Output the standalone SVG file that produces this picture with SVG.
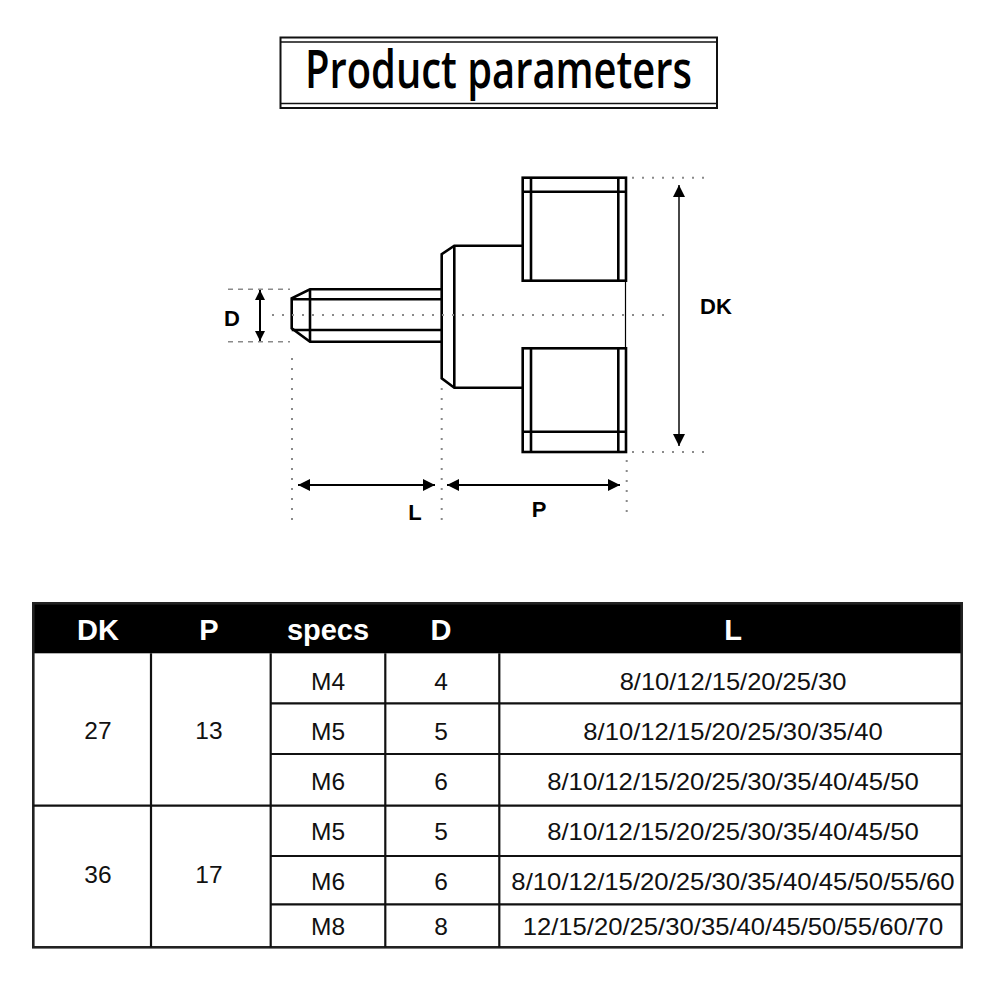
<svg xmlns="http://www.w3.org/2000/svg" width="1000" height="1000" viewBox="0 0 1000 1000">
<defs>
<style>
.ln{fill:none;stroke:#000;stroke-width:2.6;stroke-linejoin:miter}
.thin{fill:none;stroke:#000;stroke-width:1.2}
.dot{fill:none;stroke:#8a8a8a;stroke-width:2;stroke-dasharray:2 8}
.dash{fill:none;stroke:#8a8a8a;stroke-width:1.6;stroke-dasharray:5 5}
.dim{fill:none;stroke:#000;stroke-width:2}
.dimg{fill:none;stroke:#333;stroke-width:1.8}
.lbl{font-family:"Liberation Sans",Arial,sans-serif;font-weight:bold;font-size:22px;fill:#000;text-anchor:middle}
.th{font-family:"Liberation Sans",Arial,sans-serif;font-weight:bold;font-size:29px;fill:#fff;text-anchor:middle}
.td{font-family:"Liberation Sans",Arial,sans-serif;font-size:24.5px;fill:#111;text-anchor:middle}
.grid{stroke:#111;stroke-width:2.2;fill:none}
</style>
<marker id="ah" viewBox="0 0 12 12" refX="12" refY="6" markerWidth="12" markerHeight="12" markerUnits="userSpaceOnUse" orient="auto-start-reverse">
<path d="M0,0 L12,6 L0,12 Z" fill="#000"/>
</marker>
<marker id="ahs" viewBox="0 0 10 10" refX="10" refY="5" markerWidth="10" markerHeight="10" markerUnits="userSpaceOnUse" orient="auto-start-reverse">
<path d="M0,0 L10,5 L0,10 Z" fill="#000"/>
</marker>
</defs>
<rect width="1000" height="1000" fill="#fff"/>

<g id="title">
<rect x="280.5" y="37.5" width="436.5" height="70.5" fill="none" stroke="#111" stroke-width="2"/>
<line x1="280.5" y1="42" x2="717" y2="42" stroke="#111" stroke-width="1.5"/>
<line x1="280.5" y1="103.5" x2="717" y2="103.5" stroke="#111" stroke-width="1.5"/>
<text x="305" y="87.5" font-family="Open Sans, Noto Sans, sans-serif" font-weight="600" font-size="53" fill="#000" textLength="387" lengthAdjust="spacingAndGlyphs">Product parameters</text>
</g>

<g id="part">
<polyline class="ln" points="441.7,289.3 310,289.3 291.7,298.3 291.7,328.3 310,341.7 441.7,341.7"/>
<line class="ln" x1="310" y1="289.3" x2="310" y2="341.7"/>
<line class="ln" x1="291.7" y1="299.3" x2="441.7" y2="299.3"/>
<line class="ln" x1="291.7" y1="330" x2="441.7" y2="330"/>
<polyline class="ln" points="522.7,245.7 454.3,245.7 441.7,254.3 441.7,378.3 454.3,387.7 522.7,387.7"/>
<line class="ln" x1="454.3" y1="245.7" x2="454.3" y2="387.7"/>
<rect class="ln" x="522.7" y="177.7" width="103.3" height="103"/>
<line class="ln" x1="531" y1="177.7" x2="531" y2="280.7"/>
<line class="ln" x1="618.3" y1="177.7" x2="618.3" y2="280.7"/>
<line class="ln" x1="522.7" y1="191.7" x2="626" y2="191.7"/>
<rect class="ln" x="522.7" y="348.3" width="103.3" height="103.7"/>
<line class="ln" x1="531" y1="348.3" x2="531" y2="452"/>
<line class="ln" x1="618.3" y1="348.3" x2="618.3" y2="452"/>
<line class="ln" x1="522.7" y1="431.7" x2="626" y2="431.7"/>
<line class="thin" x1="625.5" y1="280.7" x2="625.5" y2="348.3"/>
</g>

<g id="connectors">
<line class="dot" x1="272" y1="315" x2="665" y2="315"/>
<line class="dash" x1="228" y1="289.3" x2="290" y2="289.3"/>
<line class="dash" x1="228" y1="341.7" x2="290" y2="341.7"/>
<line class="dim" x1="260" y1="290" x2="260" y2="341" marker-start="url(#ahs)" marker-end="url(#ahs)"/>
<line class="dot" x1="292" y1="358" x2="292" y2="520"/>
<line class="dot" x1="441.7" y1="388" x2="441.7" y2="520"/>
<line class="dot" x1="626.7" y1="460" x2="626.7" y2="520"/>
<line class="dot" x1="632" y1="177.7" x2="712" y2="177.7"/>
<line class="dot" x1="632" y1="452" x2="712" y2="452"/>
<line class="dimg" x1="679" y1="185" x2="679" y2="446" marker-start="url(#ah)" marker-end="url(#ah)"/>
<line class="dim" x1="298" y1="485" x2="435" y2="485" marker-start="url(#ah)" marker-end="url(#ah)"/>
<line class="dim" x1="447" y1="485" x2="620" y2="485" marker-start="url(#ah)" marker-end="url(#ah)"/>
</g>

<g id="labels">
<text class="lbl" x="232" y="326">D</text>
<text class="lbl" x="716" y="314">DK</text>
<text class="lbl" x="415" y="520">L</text>
<text class="lbl" x="539" y="517">P</text>
</g>

<g id="table">
<rect x="33.3" y="603.3" width="928.4" height="50" fill="#000"/>
<rect x="33.3" y="603.3" width="928.4" height="344" fill="none" stroke="#222" stroke-width="2.6"/>
<g class="grid">
<line x1="151" y1="653.3" x2="151" y2="947.3"/>
<line x1="270.7" y1="653.3" x2="270.7" y2="947.3"/>
<line x1="385.3" y1="653.3" x2="385.3" y2="947.3"/>
<line x1="499.3" y1="653.3" x2="499.3" y2="947.3"/>
<line x1="33.3" y1="805.7" x2="961.7" y2="805.7"/>
<line x1="270.7" y1="703.3" x2="961.7" y2="703.3"/>
<line x1="270.7" y1="754" x2="961.7" y2="754"/>
<line x1="270.7" y1="856" x2="961.7" y2="856"/>
<line x1="270.7" y1="904.3" x2="961.7" y2="904.3"/>
</g>
<text class="th" x="98" y="640">DK</text>
<text class="th" x="209" y="640">P</text>
<text class="th" x="328" y="640">specs</text>
<text class="th" x="441" y="640">D</text>
<text class="th" x="733" y="640">L</text>

<text class="td" x="98" y="739">27</text>
<text class="td" x="209" y="739">13</text>
<text class="td" x="98" y="883">36</text>
<text class="td" x="209" y="883">17</text>

<text class="td" x="328" y="690">M4</text>
<text class="td" x="441" y="690">4</text>
<text class="td" x="733" y="690" textLength="226.7" lengthAdjust="spacingAndGlyphs">8/10/12/15/20/25/30</text>

<text class="td" x="328" y="739.5">M5</text>
<text class="td" x="441" y="739.5">5</text>
<text class="td" x="733" y="739.5" textLength="299.3" lengthAdjust="spacingAndGlyphs">8/10/12/15/20/25/30/35/40</text>

<text class="td" x="328" y="790">M6</text>
<text class="td" x="441" y="790">6</text>
<text class="td" x="733" y="790" textLength="371.7" lengthAdjust="spacingAndGlyphs">8/10/12/15/20/25/30/35/40/45/50</text>

<text class="td" x="328" y="840">M5</text>
<text class="td" x="441" y="840">5</text>
<text class="td" x="733" y="840" textLength="371.7" lengthAdjust="spacingAndGlyphs">8/10/12/15/20/25/30/35/40/45/50</text>

<text class="td" x="328" y="889.5">M6</text>
<text class="td" x="441" y="889.5">6</text>
<text class="td" x="733" y="889.5" textLength="443.3" lengthAdjust="spacingAndGlyphs">8/10/12/15/20/25/30/35/40/45/50/55/60</text>

<text class="td" x="328" y="935">M8</text>
<text class="td" x="441" y="935">8</text>
<text class="td" x="733" y="935" textLength="420.7" lengthAdjust="spacingAndGlyphs">12/15/20/25/30/35/40/45/50/55/60/70</text>
</g>
</svg>
